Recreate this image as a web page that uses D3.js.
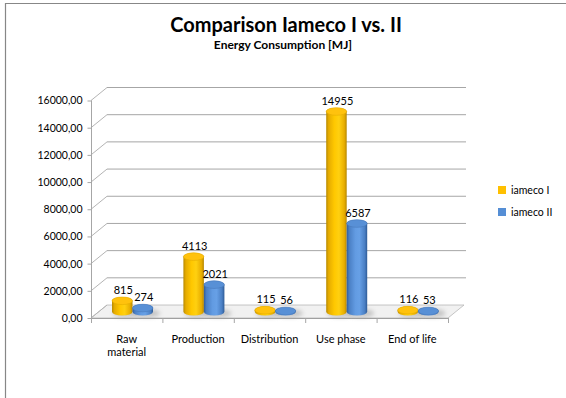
<!DOCTYPE html>
<html><head><meta charset="utf-8">
<script src="https://cdn.jsdelivr.net/npm/d3@7"></script>
<style>
html,body{margin:0;padding:0;background:#fff;}
svg{display:block;font-family:Lato,"Open Sans",sans-serif;}
</style></head>
<body>
<svg id="chart" width="566" height="398"></svg>
<script>
const categories = [["Raw","material"],["Production"],["Distribution"],["Use phase"],["End of life"]];
const seriesNames = ["iameco I","iameco II"];
const seriesI = [815, 4113, 115, 14955, 116];
const seriesII = [274, 2021, 56, 6587, 53];
const yTicks = [0,2000,4000,6000,8000,10000,12000,14000,16000];
const colors = ["#FFC000","#558ED5"];

const svg = d3.select("#chart");
const defs = svg.append("defs");

// border
svg.append("path").attr("d","M5.5,398 L5.5,3.5 L566,3.5").attr("fill","none").attr("stroke","#878787").attr("stroke-width",1.2);

// title
svg.append("text").attr("x",286).attr("y",32).attr("text-anchor","middle")
  .attr("font-size",20).attr("font-weight","bold").attr("fill","#000").text("Comparison Iameco I vs. II");
svg.append("text").attr("x",283).attr("y",49).attr("text-anchor","middle")
  .attr("font-size",12).attr("font-weight","bold").attr("fill","#000").text("Energy Consumption [MJ]");

// geometry
const fx0 = 91, fx1 = 448, fy0 = 318;  // front-left / front-right x, front base y
const ddx = 16, ddy = -13;              // depth offset
const yFront = d3.scaleLinear().domain([0,16000]).range([fy0, 100.5]);
const yBack = v => yFront(v) + ddy;
// bars sit at mid-depth (perspective makes them slightly shorter)
const yBar = d3.scaleLinear().domain([0,16000]).range([311.7, 97.5]);

const x = d3.scaleBand().domain(d3.range(categories.length)).range([fx0, fx1]);
const xs = d3.scaleBand().domain([0,1]).range([21, 62]);

// floor
svg.append("path")
  .attr("d",`M${fx0},${fy0} L${fx1},${fy0} L${fx1+ddx},${fy0+ddy} L${fx0+ddx},${fy0+ddy} Z`)
  .attr("fill","#f1f1f1").attr("stroke","#b8b8b8").attr("stroke-width",0.8);
svg.append("line").attr("x1",fx0).attr("x2",fx1).attr("y1",fy0+0.5).attr("y2",fy0+0.5)
  .attr("stroke","#a0a0a0").attr("stroke-width",1);

// gridlines (back wall + left wall diagonals)
const grid = svg.append("g");
yTicks.forEach(t => {
  if (t > 0) {
    grid.append("line").attr("x1",fx0+ddx).attr("x2",fx1+ddx+2)
      .attr("y1",yBack(t)).attr("y2",yBack(t)).attr("stroke","#a6a6a6").attr("stroke-width",1);
  }
  grid.append("line").attr("x1",fx0).attr("y1",yFront(t)).attr("x2",fx0+ddx).attr("y2",yBack(t))
    .attr("stroke","#b4b4b4").attr("stroke-width",1);
});
// left front axis
svg.append("line").attr("x1",fx0+0.5).attr("x2",fx0+0.5).attr("y1",yFront(16000)).attr("y2",fy0+1)
  .attr("stroke","#a6a6a6").attr("stroke-width",1);

// y axis labels via d3 axis
const yAxis = d3.axisLeft(yFront).tickValues(yTicks).tickSize(4).tickPadding(5)
  .tickFormat(d => d3.format(".2f")(d).replace(".",","));
const ya = svg.append("g").attr("transform",`translate(${fx0+0.5},0)`).call(yAxis);
ya.select(".domain").remove();
ya.selectAll("line").attr("stroke","#a6a6a6");
ya.selectAll("text").attr("font-size",10.5).attr("fill","#000").attr("font-family","Lato,sans-serif");

// x axis ticks
const xt = svg.append("g");
d3.range(categories.length+1).forEach(i => {
  const xx = i < categories.length ? x(i) : fx1;
  xt.append("line").attr("x1",xx+0.5).attr("x2",xx+0.5).attr("y1",fy0).attr("y2",fy0+5)
    .attr("stroke","#a6a6a6").attr("stroke-width",1);
});
categories.forEach((c,i) => {
  const t = svg.append("text").attr("x",x(i)+x.bandwidth()/2).attr("y",343)
    .attr("text-anchor","middle").attr("font-size",11).attr("fill","#000");
  c.forEach((line,j) => t.append("tspan").attr("x",x(i)+x.bandwidth()/2).attr("dy", j===0?0:13).text(line));
});

// gradients
function grad(id, stops){
  const g = defs.append("linearGradient").attr("id",id).attr("x1","0%").attr("x2","100%").attr("y1","0%").attr("y2","0%");
  stops.forEach(s => g.append("stop").attr("offset",s[0]).attr("stop-color",s[1]));
}
grad("gY",[["0%","#B88A00"],["12%","#E6AC00"],["40%","#FFC800"],["62%","#FFD010"],["88%","#E8AE00"],["100%","#B58700"]]);
grad("gB",[["0%","#2F5D9A"],["12%","#4A7FC4"],["42%","#629BE2"],["62%","#67A0E6"],["88%","#4A7FC4"],["100%","#2E5B96"]]);
const topFill = ["#FFC20D","#5890D6"];
const topStroke = ["#E0A800","#4475B5"];

const blur = defs.append("filter").attr("id","sh").attr("x","-50%").attr("y","-200%").attr("width","200%").attr("height","500%");
blur.append("feGaussianBlur").attr("stdDeviation",2.2);

const bars = svg.append("g");
const ry = 3.8;
const data = [seriesI, seriesII];
const shadowG = bars.append("g");
const cylG = bars.append("g");
categories.forEach((c,i) => {
  [0,1].forEach(s => {
    const v = data[s][i];
    const x0 = x(i) + xs(s), w = xs.bandwidth(), rx = w/2, cx = x0 + rx;
    const yb = yBar(0), yt = yBar(v);
    shadowG.append("ellipse").attr("cx",cx+4).attr("cy",yb+1.5).attr("rx",rx+3).attr("ry",ry+0.5)
      .attr("fill","#9a9a9a").attr("opacity",0.5).attr("filter","url(#sh)");
    const h = yb - yt;
    const p = h > 0.5
      ? `M${x0},${yt} L${x0},${yb} A${rx},${ry} 0 0 0 ${x0+w},${yb} L${x0+w},${yt} A${rx},${ry} 0 0 0 ${x0},${yt} Z`
      : `M${x0},${yb} A${rx},${ry} 0 0 0 ${x0+w},${yb} A${rx},${ry} 0 0 0 ${x0},${yb} Z`;
    cylG.append("path").attr("d",p).attr("fill", s===0?"url(#gY)":"url(#gB)");
    cylG.append("ellipse").attr("cx",cx).attr("cy",yt).attr("rx",rx).attr("ry",ry)
      .attr("fill",topFill[s]).attr("stroke",topStroke[s]).attr("stroke-width",0.5);
    svg.append("text").attr("x",cx+1).attr("y",yt-ry-3).attr("text-anchor","middle")
      .attr("font-size",11).attr("fill","#000").text(v);
  });
});

// legend
seriesNames.forEach((n,k) => {
  const ly = 190 + k*22;
  svg.append("rect").attr("x",498).attr("y",ly-4).attr("width",8).attr("height",8).attr("fill",colors[k]);
  svg.append("text").attr("x",511).attr("y",ly+3.5).attr("font-size",10.5).attr("fill","#000").text(n);
});
</script>
</body></html>
